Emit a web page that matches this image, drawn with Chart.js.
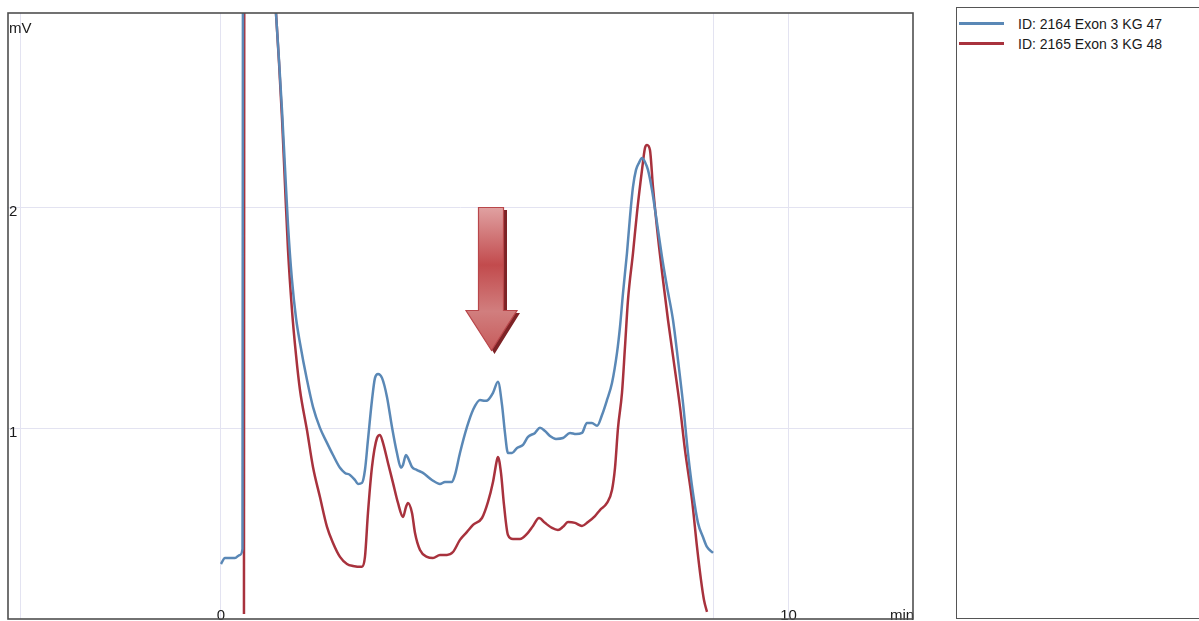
<!DOCTYPE html>
<html>
<head>
<meta charset="utf-8">
<script src="https://cdn.jsdelivr.net/npm/chart.js@4/dist/chart.umd.min.js"></script>
<style>
  html, body { margin: 0; padding: 0; background: #fff; overflow: hidden; }
  #wrap { position: relative; width: 1199px; height: 621px; }
  #chart { position: absolute; left: 0; top: 0; }
  #legend {
    position: absolute; left: 956px; top: 7px; width: 300px; height: 612px;
    box-sizing: border-box; border: 1.6px solid #555; background: #fff;
    font-family: 'Liberation Sans', Arial, sans-serif; font-size: 14px; color: #1a1a1a;
  }
  .item { position: absolute; left: 0; height: 20px; width: 100%; }
  .swatch { position: absolute; left: 2px; top: 8px; width: 45px; height: 3px; }
  .label { position: absolute; left: 61px; top: 1px; line-height: 18px; white-space: nowrap; }
  #arrow { position: absolute; left: 0; top: 0; pointer-events: none; }
</style>
</head>
<body>
<div id="wrap">
  <canvas id="chart" width="1199" height="621"></canvas>
  <div id="legend"></div>
  <svg id="arrow" width="1199" height="621" viewBox="0 0 1199 621">
    <defs>
      <linearGradient id="shaftFill" x1="0" y1="207" x2="0" y2="352" gradientUnits="userSpaceOnUse">
        <stop offset="0" stop-color="#e0a2a2"/>
        <stop offset="0.4" stop-color="#c24b4d"/>
        <stop offset="0.72" stop-color="#d17e7e"/>
        <stop offset="1" stop-color="#c65a5a"/>
      </linearGradient>
    </defs>
    <!-- drop shadow -->
    <path d="M481.5 210 L507 210 L507 313 L520 313 L494.5 354 L469 313 L481.5 313 Z" fill="#7d2326"/>
    <!-- arrow body -->
    <path d="M478.5 207.5 L503.5 207.5 L503.5 310.5 L517 310.5 L491.5 350.5 L466 310.5 L478.5 310.5 Z"
          fill="url(#shaftFill)" stroke="#b8464a" stroke-width="1.2" stroke-linejoin="miter"/>
  </svg>
</div>
<script>
// Retention time (min) and detector signal (mV) for each trace
const seriesNames = ['ID: 2164 Exon 3 KG 47', 'ID: 2165 Exon 3 KG 48'];
const seriesColors = ['#5a88b6', '#a8323d'];

const timeBlue = [0.000, 0.070, 0.247, 0.335, 0.379, 0.388, 0.652, 0.899, 0.969, 1.022, 1.075, 1.128,
  1.181, 1.251, 1.322, 1.392, 1.515, 1.621, 1.744, 1.868, 1.974, 2.097, 2.185, 2.273, 2.361, 2.414,
  2.485, 2.537, 2.590, 2.661, 2.714, 2.767, 2.837, 2.925, 3.013, 3.101, 3.172, 3.207, 3.260, 3.295,
  3.366, 3.454, 3.559, 3.718, 3.859, 3.947, 4.070, 4.123, 4.211, 4.335, 4.441, 4.564, 4.652, 4.705,
  4.793, 4.881, 4.952, 5.004, 5.057, 5.128, 5.216, 5.322, 5.410, 5.533, 5.621, 5.709, 5.797, 5.903,
  6.026, 6.150, 6.256, 6.361, 6.449, 6.537, 6.626, 6.714, 6.802, 6.890, 6.978, 7.031, 7.084, 7.154,
  7.207, 7.260, 7.313, 7.366, 7.419, 7.471, 7.524, 7.595, 7.683, 7.771, 7.859, 7.965, 8.053, 8.141,
  8.229, 8.317, 8.405, 8.493, 8.564, 8.670];
const mvBlue = [0.389, 0.416, 0.416, 0.430, 0.457, 3.400, 4.400, 3.167, 2.882, 2.670, 2.443, 2.181,
  1.923, 1.674, 1.502, 1.389, 1.222, 1.100, 1.005, 0.937, 0.882, 0.824, 0.801, 0.792, 0.769, 0.751,
  0.756, 0.814, 0.950, 1.131, 1.231, 1.249, 1.231, 1.145, 1.009, 0.891, 0.824, 0.837, 0.882, 0.869,
  0.828, 0.814, 0.801, 0.769, 0.751, 0.760, 0.760, 0.792, 0.891, 1.009, 1.086, 1.131, 1.127, 1.131,
  1.163, 1.213, 1.109, 0.982, 0.891, 0.891, 0.914, 0.928, 0.964, 0.982, 1.005, 0.991, 0.968, 0.955,
  0.959, 0.982, 0.977, 0.982, 1.027, 1.027, 1.014, 1.063, 1.131, 1.208, 1.344, 1.462, 1.615, 1.796,
  1.959, 2.095, 2.172, 2.204, 2.226, 2.208, 2.172, 2.081, 1.932, 1.778, 1.643, 1.493, 1.312, 1.118,
  0.891, 0.710, 0.575, 0.511, 0.466, 0.439];

const timeRed = [0.405, 0.411, 0.652, 0.899, 0.969, 1.022, 1.075, 1.128, 1.181, 1.251, 1.322, 1.392,
  1.515, 1.621, 1.744, 1.868, 1.974, 2.097, 2.220, 2.326, 2.485, 2.537, 2.590, 2.661, 2.749, 2.802,
  2.855, 2.943, 3.031, 3.119, 3.207, 3.260, 3.295, 3.366, 3.419, 3.507, 3.630, 3.736, 3.859, 3.982,
  4.088, 4.211, 4.335, 4.441, 4.599, 4.705, 4.793, 4.863, 4.881, 4.934, 4.987, 5.057, 5.145, 5.269,
  5.392, 5.498, 5.604, 5.709, 5.833, 5.938, 6.026, 6.115, 6.238, 6.361, 6.467, 6.590, 6.678, 6.802,
  6.890, 6.943, 6.996, 7.066, 7.119, 7.172, 7.260, 7.330, 7.419, 7.471, 7.507, 7.559, 7.612, 7.700,
  7.789, 7.877, 7.982, 8.088, 8.176, 8.300, 8.388, 8.458, 8.511, 8.564];
const mvRed = [0.163, 3.400, 4.400, 3.167, 2.882, 2.661, 2.407, 2.104, 1.810, 1.538, 1.335, 1.176,
  0.995, 0.828, 0.692, 0.557, 0.484, 0.421, 0.389, 0.380, 0.376, 0.421, 0.620, 0.828, 0.959, 0.973,
  0.937, 0.846, 0.756, 0.665, 0.602, 0.647, 0.665, 0.620, 0.529, 0.452, 0.421, 0.416, 0.430, 0.430,
  0.443, 0.498, 0.534, 0.566, 0.597, 0.670, 0.760, 0.860, 0.873, 0.801, 0.656, 0.520, 0.502, 0.502,
  0.525, 0.561, 0.597, 0.575, 0.552, 0.543, 0.557, 0.579, 0.575, 0.561, 0.579, 0.606, 0.633, 0.665,
  0.724, 0.824, 1.005, 1.163, 1.371, 1.584, 1.796, 1.977, 2.172, 2.271, 2.285, 2.262, 2.095, 1.869,
  1.674, 1.493, 1.299, 1.100, 0.905, 0.679, 0.466, 0.317, 0.226, 0.172];

// Axis ticks
const xTickValues = [-3.54, 0, 8.67, 10, 12];
const xTickLabels = ['', '0', '', '10', 'min'];
const yTickValues = [1, 2, 2.83];
const yTickLabels = ['1', '2', 'mV'];

const FONT = "'Liberation Sans', Arial, sans-serif";
const GRID = '#e3e3f1';
const TEXT = '#1a1a1a';

const toPoints = (xs, ys) => xs.map((x, i) => ({ x: x, y: ys[i] }));

// The axes sit inside the frame, so they take no room in the layout
const collapse = (s, horizontal) => {
  if (horizontal) s.height = 0; else s.width = 0;
  s.paddingTop = 0; s.paddingBottom = 0; s.paddingLeft = 0; s.paddingRight = 0;
};

// Frame around the plot area
const frame = {
  id: 'frame',
  afterDraw(chart) {
    const { ctx, chartArea: a } = chart;
    ctx.save();
    ctx.strokeStyle = '#4f4f4f';
    ctx.lineWidth = 1.6;
    ctx.strokeRect(a.left, a.top, a.right - a.left, a.bottom - a.top);
    ctx.restore();
  }
};

const chart = new Chart(document.getElementById('chart'), {
  type: 'line',
  data: {
    datasets: [
      { label: seriesNames[0], data: toPoints(timeBlue, mvBlue), borderColor: seriesColors[0] },
      { label: seriesNames[1], data: toPoints(timeRed, mvRed), borderColor: seriesColors[1] }
    ]
  },
  options: {
    responsive: false,
    animation: false,
    parsing: false,
    normalized: true,
    layout: { padding: { left: 8, top: 13, right: 286, bottom: 2 } },
    elements: {
      point: { radius: 0 },
      line: { borderWidth: 2.5, fill: false, tension: 0.25, cubicInterpolationMode: 'monotone' }
    },
    plugins: { legend: { display: false }, tooltip: { enabled: false } },
    scales: {
      x: {
        type: 'linear', position: 'bottom', min: -3.753, max: 12.194,
        afterBuildTicks: s => { s.ticks = xTickValues.map(v => ({ value: v })); },
        afterFit: s => collapse(s, true),
        border: { display: false },
        grid: {
          drawTicks: false,
          color: c => (c.tick && c.tick.value > 11 ? 'rgba(0,0,0,0)' : GRID),
          lineWidth: 1
        },
        ticks: {
          autoSkip: false, maxRotation: 0, mirror: true, padding: -6, color: TEXT,
          font: { family: FONT, size: 15 },
          callback: v => { const i = xTickValues.indexOf(v); return i < 0 ? '' : xTickLabels[i]; }
        }
      },
      y: {
        type: 'linear', position: 'left', min: 0.140, max: 2.882,
        afterBuildTicks: s => { s.ticks = yTickValues.map(v => ({ value: v })); },
        afterFit: s => collapse(s, false),
        border: { display: false },
        grid: {
          drawTicks: false,
          color: c => (c.tick && c.tick.value > 2.5 ? 'rgba(0,0,0,0)' : GRID),
          lineWidth: 1
        },
        ticks: {
          mirror: true, padding: 1, labelOffset: 4, color: TEXT,
          font: { family: FONT, size: 15 },
          callback: v => { const i = yTickValues.indexOf(v); return i < 0 ? '' : yTickLabels[i]; }
        }
      }
    }
  },
  plugins: [frame]
});

// Series legend in the side panel
const legend = document.getElementById('legend');
chart.data.datasets.forEach((ds, i) => {
  const row = document.createElement('div');
  row.className = 'item';
  row.style.top = (6 + i * 20) + 'px';
  const sw = document.createElement('span');
  sw.className = 'swatch';
  sw.style.background = ds.borderColor;
  const tx = document.createElement('span');
  tx.className = 'label';
  tx.textContent = ds.label;
  row.appendChild(sw);
  row.appendChild(tx);
  legend.appendChild(row);
});
</script>
</body>
</html>
